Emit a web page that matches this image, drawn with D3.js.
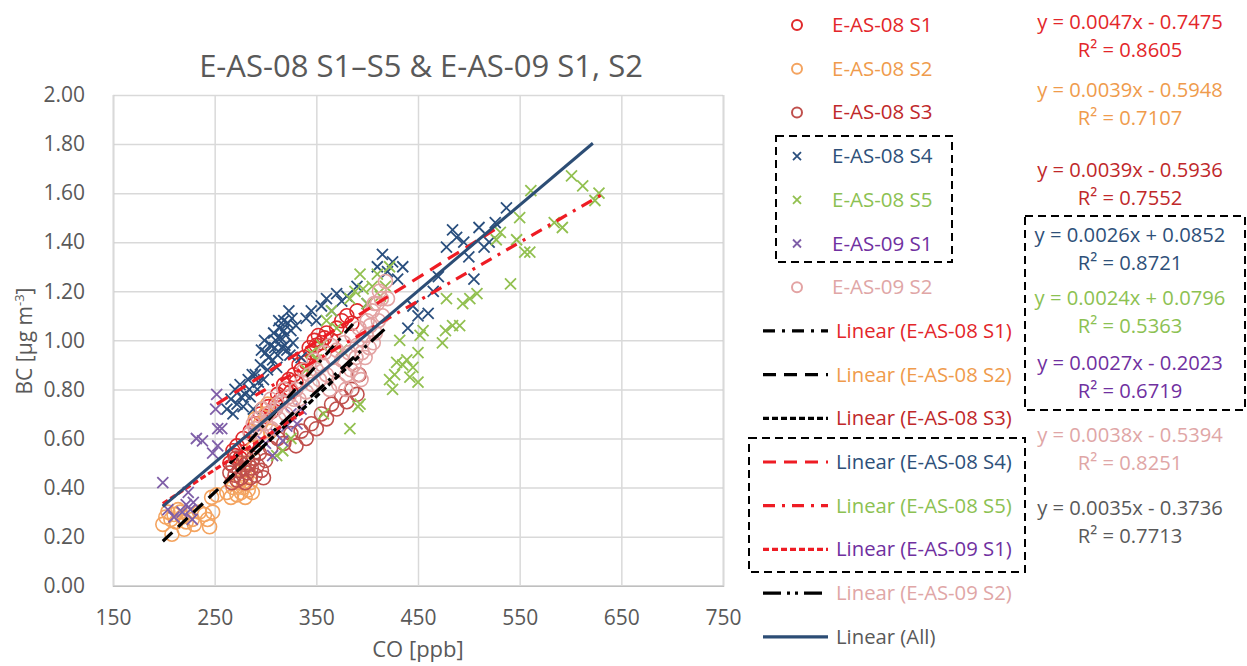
<!DOCTYPE html>
<html>
<head>
<meta charset="utf-8">
<script src="https://cdn.jsdelivr.net/npm/d3@7"></script>
<style>
  body { margin: 0; background: #fff; }
  svg { font-family: "Open Sans", sans-serif; }
</style>
</head>
<body>
<svg id="chart" width="1247" height="666"></svg>
<script>
// series names
var seriesNames = ["E-AS-08 S1", "E-AS-08 S2", "E-AS-08 S3", "E-AS-08 S4", "E-AS-08 S5", "E-AS-09 S1", "E-AS-09 S2"];

// [CO ppb, BC ug/m3]
var s08s1 = [[265,0.50],[268,0.55],[270,0.53],[272,0.57],[275,0.52],[278,0.60],[282,0.58],[285,0.63],[290,0.66],[295,0.70],
  [300,0.69],[303,0.73],[306,0.71],[310,0.74],[312,0.78],[315,0.76],[318,0.82],[320,0.80],[323,0.84],[325,0.79],[328,0.86],
  [330,0.83],[333,0.90],[335,0.88],[338,0.93],[340,0.91],[343,0.97],[345,0.95],[348,1.00],[350,0.98],[352,1.02],[355,0.99],
  [358,1.01],[360,1.03],[365,1.00],[370,1.05],[375,1.08],[380,1.10],[385,1.07],[390,1.12]];
var s08s2 = [[199,0.25],[202,0.28],[204,0.30],[207,0.27],[208,0.21],[210,0.29],[212,0.26],[214,0.31],[216,0.30],[218,0.28],
  [220,0.23],[222,0.26],[224,0.29],[228,0.27],[230,0.25],[235,0.30],[240,0.29],[243,0.27],[245,0.24],[248,0.30],[247,0.36],
  [252,0.37],[262,0.38],[266,0.36],[268,0.40],[272,0.37],[274,0.42],[276,0.38],[278,0.40],[280,0.36],[281,0.44],[283,0.39],
  [285,0.42],[287,0.38],[283,0.47],[279,0.50],[288,0.56],[292,0.62],[295,0.66],[297,0.72],[300,0.70],[302,0.74],[290,0.68],[305,0.63]];
var s08s3 = [[265,0.46],[267,0.42],[268,0.49],[270,0.45],[271,0.52],[272,0.43],[274,0.47],[275,0.50],[276,0.44],[278,0.48],
  [279,0.53],[280,0.42],[282,0.46],[283,0.50],[285,0.44],[286,0.48],[288,0.52],[290,0.45],[292,0.49],[294,0.54],[296,0.47],
  [298,0.44],[300,0.51],[305,0.56],[312,0.60],[318,0.58],[325,0.62],[330,0.57],[335,0.63],[340,0.60],[345,0.66],[350,0.64],
  [355,0.70],[360,0.68],[365,0.74],[370,0.72],[375,0.77],[380,0.75],[385,0.80],[390,0.78],[392,0.86]];
var s08s4 = [[262,0.72],[266,0.76],[268,0.70],[270,0.80],[272,0.74],[275,0.82],[278,0.73],[280,0.78],[283,0.84],[285,0.77],
  [288,0.72],[290,0.86],[292,0.80],[295,0.90],[298,0.84],[300,0.95],[302,0.88],[305,0.98],[307,0.92],[310,1.00],[312,0.94],
  [314,1.05],[316,0.97],[318,1.08],[320,1.02],[321,0.96],[323,1.12],[325,1.04],[327,0.99],[330,1.06],[335,0.93],[340,1.09],
  [296,0.96],[299,1.00],[303,0.93],[308,1.03],[311,0.89],[315,1.01],[319,0.98],[322,1.07],[324,0.94],[326,1.09],[318,1.04],
  [284,0.80],[287,0.86],[293,0.83],[276,0.77],[309,0.97],[313,1.08],
  [345,1.12],[350,1.08],[355,1.14],[360,1.17],[365,1.12],[370,1.19],[375,1.16],[380,1.18],[390,1.22],[400,1.15],[410,1.30],
  [415,1.35],[420,1.28],[425,1.32],[430,1.25],[435,1.30],[440,1.05],[445,1.14],[450,1.10],[460,1.11],[465,1.20],[470,1.26],
  [478,1.38],[484,1.45],[488,1.42],[495,1.40],[500,1.34],[505,1.25],[510,1.46],[515,1.38],[520,1.40],[526,1.48],[537,1.54]];
var s08s5 = [[311,0.53],[317,0.55],[325,0.60],[340,0.88],[345,0.95],[350,0.92],[355,0.98],[357,0.70],[360,1.08],[365,1.12],
  [370,1.05],[375,0.96],[383,0.64],[383,1.17],[388,1.20],[391,0.73],[393,0.74],[393,1.27],[396,1.21],[400,1.15],[405,1.22],
  [410,1.27],[413,1.18],[418,1.22],[422,1.30],[422,0.84],[425,0.80],[427,0.86],[429,0.91],[432,1.00],[435,0.90],[439,0.92],
  [442,0.85],[445,0.89],[450,0.83],[450,0.95],[452,1.02],[455,1.04],[474,0.99],[477,1.04],[478,1.17],[484,1.06],[491,1.06],
  [494,1.15],[501,1.17],[508,1.19],[527,1.41],[531,1.44],[541,1.23],[547,1.41],[550,1.50],[555,1.36],[560,1.36],[561,1.61],
  [584,1.48],[592,1.46],[601,1.67],[612,1.63],[624,1.57],[628,1.60]];
var s09s1 = [[199,0.42],[204,0.31],[210,0.28],[218,0.30],[222,0.33],[224,0.38],[226,0.31],[229,0.34],[228,0.27],[232,0.60],
  [238,0.59],[248,0.54],[251,0.72],[252,0.78],[253,0.57],[253,0.64],[257,0.64],[290,0.62],[300,0.58],[307,0.53],[310,0.62],
  [317,0.59],[321,0.65],[325,0.70],[331,0.66],[335,0.72]];
var s09s2 = [[285,0.62],[288,0.66],[290,0.64],[293,0.68],[296,0.62],[300,0.66],[303,0.70],[306,0.64],[310,0.72],[313,0.68],
  [316,0.75],[320,0.70],[323,0.77],[326,0.73],[330,0.80],[333,0.76],[336,0.83],[340,0.79],[343,0.86],[346,0.82],[350,0.88],
  [353,0.84],[356,0.90],[360,0.86],[363,0.80],[366,0.93],[368,0.88],[370,0.96],[372,0.82],[375,0.92],[377,0.99],[380,0.86],
  [382,0.95],[385,1.02],[387,0.90],[390,0.98],[392,1.05],[394,0.84],[396,1.00],[398,0.93],[400,1.08],[402,0.97],[405,1.12],
  [408,1.03],[410,1.15],[412,1.20],[415,1.10],[418,1.24],[420,1.17],
  [379,0.80],[384,0.88],[389,0.93],[391,0.86],[395,0.95],[399,1.02],[403,1.06],[406,0.99],[407,1.15],[411,1.08],[414,1.17],
  [297,0.72],[305,0.76],[312,0.74],[318,0.80],[328,0.76],[338,0.88],[348,0.92],[358,0.95],[364,0.98]];

// trend lines: slope, intercept, CO range
var trendNames = ["Linear (E-AS-08 S1)", "Linear (E-AS-08 S2)", "Linear (E-AS-08 S3)", "Linear (E-AS-08 S4)",
  "Linear (E-AS-08 S5)", "Linear (E-AS-09 S1)", "Linear (E-AS-09 S2)", "Linear (All)"];
var trendSlope = [0.0047, 0.0039, 0.0039, 0.0026, 0.0024, 0.0027, 0.0038, 0.0035];
var trendIntercept = [-0.7475, -0.5948, -0.5936, 0.0852, 0.0796, -0.2023, -0.5394, -0.3736];
var trendRange = [[265, 390], [199, 305], [265, 392], [252, 530], [290, 630], [199, 340], [285, 420], [199, 622]];
var trendEq = ["y = 0.0047x - 0.7475", "y = 0.0039x - 0.5948", "y = 0.0039x - 0.5936", "y = 0.0026x + 0.0852",
  "y = 0.0024x + 0.0796", "y = 0.0027x - 0.2023", "y = 0.0038x - 0.5394", "y = 0.0035x - 0.3736"];
var trendR2 = ["0.8605", "0.7107", "0.7552", "0.8721", "0.5363", "0.6719", "0.8251", "0.7713"];

var xTicks = [150, 250, 350, 450, 550, 650, 750];
var yTicks = [0, 0.2, 0.4, 0.6, 0.8, 1.0, 1.2, 1.4, 1.6, 1.8, 2.0];

// styles
var markerColor = ["#e0282a", "#f4a460", "#c0504d", "#2a4f7e", "#92c050", "#7f5fa8", "#e3a3a3"];
var textColor = ["#e3262a", "#ef9b4c", "#c0282a", "#2e5079", "#8cc152", "#7030a0", "#e0a6a6", "#595959"];
var markerShape = ["o", "o", "o", "x", "x", "x", "o"];
var trendColor = ["#000", "#000", "#000", "#ee1c24", "#ee1c24", "#ee1c24", "#000", "#2c4d75"];
var trendDash = ["12,7,3,7", "13,8", "6,3", "13,8", "12,7,3,7", "6,3", "18,6,3,5,3,6", null];

var allSeries = [s08s1, s08s2, s08s3, s08s4, s08s5, s09s1, s09s2];

var svg = d3.select("#chart");
var margin = { left: 113, right: 1247 - 723, top: 95, bottom: 666 - 585.7 };

var x = d3.scaleLinear().domain([150, 750]).range([margin.left, 723]);
var y = d3.scaleLinear().domain([0, 2]).range([585.7, margin.top]);

// grid
svg.append("g")
    .attr("class", "grid-y")
    .attr("transform", "translate(" + margin.left + ",0)")
    .call(d3.axisLeft(y).tickValues(yTicks).tickSize(-(723 - margin.left)).tickFormat(d3.format(".2f")));

svg.append("g")
    .attr("class", "grid-x")
    .attr("transform", "translate(0,585.7)")
    .call(d3.axisBottom(x).tickValues(xTicks).tickSize(-(585.7 - margin.top)).tickFormat(d3.format("d")));

svg.selectAll(".grid-y .tick line, .grid-x .tick line")
    .attr("stroke", "#d9d9d9").attr("stroke-width", 1.5);
svg.selectAll(".grid-y path.domain").remove();
svg.select(".grid-x path.domain").attr("stroke", "#bfbfbf").attr("stroke-width", 1.5);
svg.selectAll(".grid-y text")
    .attr("x", -28).attr("fill", "#595959").style("font-size", "21px").style("font-family", "Open Sans");
svg.selectAll(".grid-x text")
    .attr("y", 24).attr("fill", "#595959").style("font-size", "21px").style("font-family", "Open Sans");

// points
var plot = svg.append("g");
allSeries.forEach(function (data, i) {
    var g = plot.append("g");
    if (markerShape[i] === "o") {
        g.selectAll("circle")
            .data(data)
            .enter()
            .append("circle")
            .attr("cx", function (d) { return x(d[0]); })
            .attr("cy", function (d) { return y(d[1]); })
            .attr("r", 7)
            .attr("fill", "none")
            .attr("stroke", markerColor[i])
            .attr("stroke-width", 1.6);
    } else {
        g.selectAll("path")
            .data(data)
            .enter()
            .append("path")
            .attr("d", function (d) {
                var cx = x(d[0]), cy = y(d[1]), s = 5.5;
                return "M" + (cx - s) + "," + (cy - s) + "L" + (cx + s) + "," + (cy + s) +
                    "M" + (cx - s) + "," + (cy + s) + "L" + (cx + s) + "," + (cy - s);
            })
            .attr("stroke", markerColor[i])
            .attr("stroke-width", 1.8)
            .attr("fill", "none");
    }
});

// trend lines
trendSlope.forEach(function (a, i) {
    var b = trendIntercept[i];
    var pts = trendRange[i].map(function (c) { return [c, a * c + b]; });
    plot.append("path")
        .datum(pts)
        .attr("d", d3.line().x(function (d) { return x(d[0]); }).y(function (d) { return y(d[1]); }))
        .attr("fill", "none")
        .attr("stroke", trendColor[i])
        .attr("stroke-width", i === 7 ? 3 : 3.2)
        .attr("stroke-dasharray", trendDash[i]);
});

// title + axis labels
svg.append("text")
    .attr("x", 421).attr("y", 77)
    .attr("text-anchor", "middle")
    .attr("fill", "#595959")
    .style("font-size", "31px")
    .text("E-AS-08 S1\u2013S5 & E-AS-09 S1, S2");

svg.append("text")
    .attr("x", 418).attr("y", 657)
    .attr("text-anchor", "middle")
    .attr("fill", "#595959")
    .style("font-size", "22px")
    .text("CO [ppb]");

var yl = svg.append("text")
    .attr("transform", "translate(32,341) rotate(-90)")
    .attr("text-anchor", "middle")
    .attr("fill", "#595959")
    .style("font-size", "21px");
yl.append("tspan").text("BC [\u00b5g m");
yl.append("tspan").attr("dy", -8).style("font-size", "13px").text("-3");
yl.append("tspan").attr("dy", 8).text("]");

// legend
var legRow = function (k) { return 25 + k * 43.7; };
var leg = svg.append("g");
seriesNames.forEach(function (name, i) {
    var cy = legRow(i);
    if (markerShape[i] === "o") {
        leg.append("circle").attr("cx", 797).attr("cy", cy).attr("r", 5)
            .attr("fill", "none").attr("stroke", markerColor[i]).attr("stroke-width", 2);
    } else {
        leg.append("path")
            .attr("d", "M793," + (cy - 4) + "L801," + (cy + 4) + "M793," + (cy + 4) + "L801," + (cy - 4))
            .attr("stroke", markerColor[i]).attr("stroke-width", 1.8);
    }
    leg.append("text").attr("x", 832).attr("y", cy + 7)
        .attr("fill", textColor[i]).style("font-size", "20.5px").text(name);
});
trendNames.forEach(function (name, i) {
    var cy = legRow(i + 7);
    leg.append("line").attr("x1", 763).attr("x2", 828).attr("y1", cy).attr("y2", cy)
        .attr("stroke", trendColor[i]).attr("stroke-width", 3.2)
        .attr("stroke-dasharray", trendDash[i]);
    leg.append("text").attr("x", 836).attr("y", cy + 7)
        .attr("fill", textColor[i]).style("font-size", "20.3px").text(name);
});

// equations
var eqY = [22, 90, 170, 235, 298, 363, 435, 508];
var eqG = svg.append("g");
trendEq.forEach(function (eq, i) {
    eqG.append("text").attr("x", 1130).attr("y", eqY[i] + 7)
        .attr("text-anchor", "middle").attr("fill", textColor[i])
        .style("font-size", "20.2px").text(eq);
    eqG.append("text").attr("x", 1130).attr("y", eqY[i] + 35)
        .attr("text-anchor", "middle").attr("fill", textColor[i])
        .style("font-size", "20.2px").text("R\u00b2 = " + trendR2[i]);
});

// dashed boxes
var boxes = [[776, 136, 952, 262], [749, 438, 1025, 572], [1025, 216, 1245, 410]];
svg.append("g").selectAll("rect")
    .data(boxes)
    .enter()
    .append("rect")
    .attr("x", function (d) { return d[0]; })
    .attr("y", function (d) { return d[1]; })
    .attr("width", function (d) { return d[2] - d[0]; })
    .attr("height", function (d) { return d[3] - d[1]; })
    .attr("fill", "none")
    .attr("stroke", "#000")
    .attr("stroke-width", 2)
    .attr("stroke-dasharray", "8,5");
</script>
</body>
</html>
